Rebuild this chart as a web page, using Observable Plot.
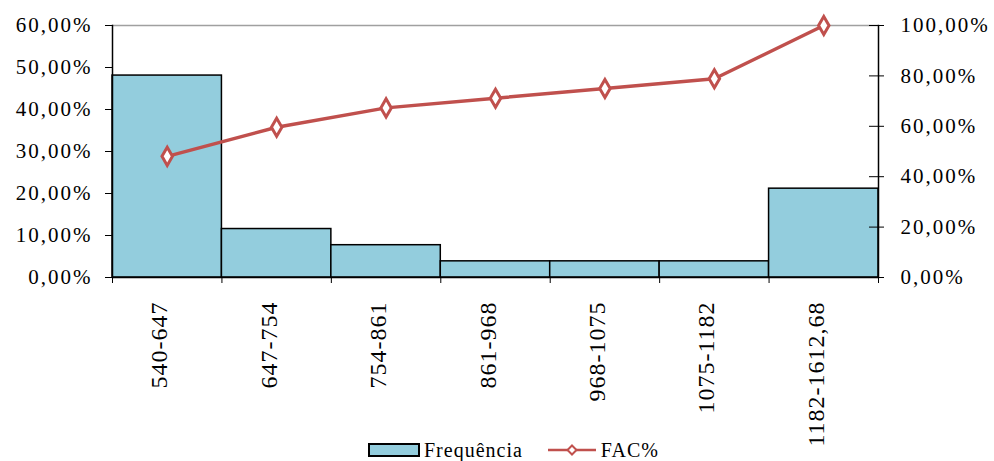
<!DOCTYPE html>
<html>
<head>
<meta charset="utf-8">
<script src="https://cdn.jsdelivr.net/npm/d3@7"></script>
<script src="https://cdn.jsdelivr.net/npm/@observablehq/plot@0.6"></script>
<style>
  html, body { margin: 0; padding: 0; background: #fff; }
  #wrap { position: relative; width: 994px; height: 461px; overflow: hidden; font-family: "Liberation Serif", "Times New Roman", serif; color: #000; }
  [aria-label="y-axis tick label"] { letter-spacing: 2px; }
  [aria-label="text"] { letter-spacing: 1px; }
  #legend { position: absolute; left: 368px; top: 440px; display: flex; align-items: center; font-size: 20px; line-height: 20px; white-space: nowrap; letter-spacing: 1px; }
  #legend .item { display: flex; align-items: center; }
</style>
</head>
<body>
<div id="wrap">
  <div id="chart"></div>
  <div id="legend"></div>
</div>
<script>
const categories = ["540-647", "647-754", "754-861", "861-968", "968-1075", "1075-1182", "1182-1612,68"];
const frequencia = [48.08, 11.54, 7.69, 3.85, 3.85, 3.85, 21.15];
const facPct = [48.08, 59.62, 67.31, 71.15, 75.00, 78.85, 100.00];
const leftTicks = [0, 10, 20, 30, 40, 50, 60];
const leftLabels = ["0,00%", "10,00%", "20,00%", "30,00%", "40,00%", "50,00%", "60,00%"];
const rightTicks = [0, 20, 40, 60, 80, 100];
const rightLabels = ["0,00%", "20,00%", "40,00%", "60,00%", "80,00%", "100,00%"];

const leftMax = 60, rightMax = 100;
const k = leftMax / rightMax;
const red = "#C0504D";
const teal = "#93CDDD";

const rows = categories.map((c, i) => ({
  cat: c, i0: i, i1: i + 1, mid: i + 0.5, freq: frequencia[i], fac: facPct[i] * k
}));
const boundaries = d3.range(categories.length + 1);
const rightPos = rightTicks.map(t => t * k);

const chart = Plot.plot({
  width: 994,
  height: 440,
  marginTop: 25,
  marginBottom: 163,
  marginLeft: 112,
  marginRight: 116,
  style: { fontFamily: "'Liberation Serif', 'Times New Roman', serif", color: "#000", background: "#fff", overflow: "visible" },
  x: { type: "linear", domain: [0, categories.length], axis: null },
  y: { domain: [0, leftMax], axis: null },
  marks: [
    Plot.ruleY([leftMax], { stroke: "#a0a0a0", strokeWidth: 1.5 }),
    Plot.rectY(rows, { x1: "i0", x2: "i1", y: "freq", fill: teal, stroke: "#000", strokeWidth: 1.5 }),
    Plot.ruleY([0], { stroke: "#000", strokeWidth: 1.5 }),
    Plot.frame({ anchor: "left", stroke: "#000", strokeWidth: 1.5 }),
    Plot.frame({ anchor: "right", stroke: "#000", strokeWidth: 1.5 }),
    Plot.axisX({ ticks: boundaries, tickFormat: () => "", tickSize: 6, stroke: "#000" }),
    Plot.text(rows, {
      x: "mid", text: "cat", frameAnchor: "bottom", rotate: -90, textAnchor: "end",
      dy: 24, fontSize: 24, fill: "#000"
    }),
    Plot.axisY({
      anchor: "left", ticks: leftTicks, tickSize: 7, tickPadding: 13, fontSize: 21,
      tickFormat: d => leftLabels[leftTicks.indexOf(d)], stroke: "#000", fill: "#000"
    }),
    Plot.axisY({
      anchor: "right", ticks: rightPos, tickSize: 5, tickPadding: 17, fontSize: 21,
      tickFormat: d => rightLabels[rightPos.indexOf(d)], stroke: "#000", fill: "#000"
    }),
    Plot.axisY({
      anchor: "right", ticks: rightPos, tickSize: -10, tickFormat: () => "", stroke: "#000"
    }),
    Plot.line(rows, { x: "mid", y: "fac", stroke: red, strokeWidth: 3.5 }),
    Plot.dot(rows, { x: "mid", y: "fac", symbol: "diamond", r: 5.5, fill: "#fff", stroke: red, strokeWidth: 3 })
  ]
});
document.getElementById("chart").appendChild(chart);

// Legend
const legend = document.getElementById("legend");
legend.innerHTML = `
  <div class="item">
    <svg width="52" height="14" style="margin-right:4px"><rect x="1" y="1" width="50" height="12" fill="${teal}" stroke="#000" stroke-width="2"/></svg>
    <span>Frequência</span>
  </div>
  <div class="item" style="margin-left:24px">
    <svg width="50" height="16" style="margin-right:4px"><line x1="1" y1="8" x2="49" y2="8" stroke="${red}" stroke-width="2.5"/><path d="M25,3.5 L29.5,8 L25,12.5 L20.5,8 Z" fill="#fff" stroke="${red}" stroke-width="2"/></svg>
    <span>FAC%</span>
  </div>`;
</script>
</body>
</html>
